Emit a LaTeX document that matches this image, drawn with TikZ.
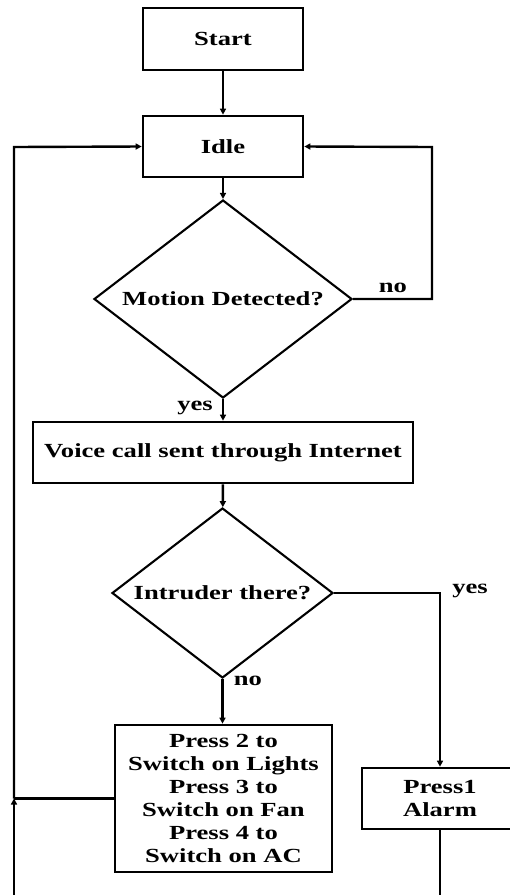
\documentclass[tikz,border=0pt]{standalone}
\usepackage{fontspec}
\setmainfont{Liberation Serif}[FakeStretch=1.33]
\usetikzlibrary{shapes.geometric,arrows.meta}

\begin{document}
\begin{tikzpicture}[x=1pt,y=-1pt,
  font=\fontsize{20}{23}\selectfont\bfseries,
  box/.style={draw,line width=2.7pt,rectangle,inner sep=0pt,align=center},
  decision/.style={draw,line width=2.1pt,diamond,inner sep=0pt},
  flow/.style={line width=2.4pt,-{Triangle[length=6pt,width=6pt]}},
  link/.style={line width=2.4pt},
  lbl/.style={inner sep=0pt}]

\path[use as bounding box] (0,0) rectangle (510,895);
\clip (0,0) rectangle (510,895);

% process boxes
\node[box,minimum width=160pt,minimum height=62pt] (start) at (223,39) {Start};
\node[box,minimum width=160pt,minimum height=61pt] (idle) at (223,146.5) {Idle};
\node[box,minimum width=380pt,minimum height=61pt] (voice) at (223,452.5) {Voice call sent through Internet};
\node[box,minimum width=217pt,minimum height=147pt] (press) at (223.5,798.5)
  {Press 2 to\\Switch on Lights\\Press 3 to\\Switch on Fan\\Press 4 to\\Switch on AC};
\node[box,minimum width=156pt,minimum height=61pt] (alarm) at (440,798.5) {Press1\\Alarm};

% decisions: outline and question set separately
\node[decision,minimum width=258pt,minimum height=198pt] (motion) at (223,299) {};
\node[lbl] (motiontext) at (motion.center) {Motion Detected?};
\node[decision,minimum width=221pt,minimum height=170pt] (intruder) at (222.5,593) {};
\node[lbl] (intrudertext) at (intruder.center) {Intruder there?};

% branch labels
\node[lbl] (nomotion) at (393,288) {no};
\node[lbl] (yesmotion) at (195,408) {yes};
\node[lbl] (yesintruder) at (470,591) {yes};
\node[lbl] (nointruder) at (248,681) {no};

% helper points of the return loops
\coordinate (noturn) at (432,147);
\coordinate (loopbot) at (14,900);
\coordinate (loopturn) at (14,147);
\coordinate (alarmend) at (440,900);
\coordinate (joint) at (press.west -| loopbot);

% main flow
\draw[flow] (start) -- (idle);
\draw[flow] (idle) -- (motion);
\draw[flow] (motion) -- (voice);
\draw[flow] (voice) -- (intruder);
\draw[flow] (intruder.south) -- (intruder.south |- press.north);
\draw[flow] (intruder.east) -| (alarm.north);

% no motion: back to idle
\draw[flow] (motion.east) -| (noturn) -- (idle.east);

% return loop on the left
\draw[link] (alarm.south) -- (alarmend);
\draw[link] (press.west) -- (joint);
\draw[flow] (loopbot) -- (joint);
\draw[flow] (joint) -- (loopturn) -- (idle.west);
\end{tikzpicture}
\end{document}
